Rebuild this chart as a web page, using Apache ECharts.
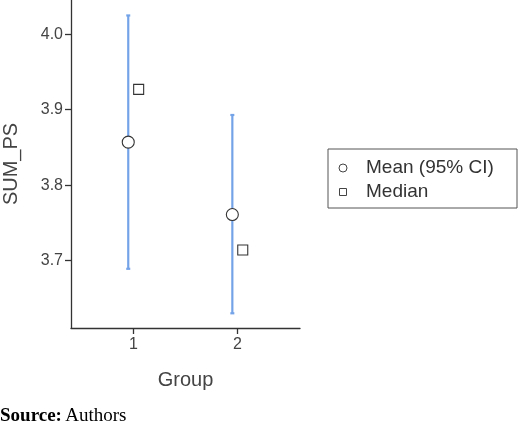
<!DOCTYPE html>
<html><head><meta charset="utf-8">
<script src="https://cdn.jsdelivr.net/npm/echarts@6/dist/echarts.min.js"></script>
<style>html,body{margin:0;padding:0;background:#fff}#c{width:520px;height:428px}</style>
</head><body><div id="c"></div>
<script>
const groups = [1, 2];
const means = [3.857, 3.761];
const ciLow = [3.689, 3.630];
const ciHigh = [4.025, 3.893];
const medians = [3.927, 3.714];
const yTicks = [3.7, 3.8, 3.9, 4.0];
const legendNames = ['Mean (95% CI)', 'Median'];

const chart = echarts.init(document.getElementById('c'));
const axisStyle = {color:'#333', width:1.3};
const F = 'Liberation Sans';
chart.setOption({
  animation:false,
  grid:{left:68, top:0, right:220, bottom:100},
  xAxis:{type:'value', min:0.4, max:2.6, name:'Group', nameLocation:'middle', nameGap:42,
    nameTextStyle:{fontSize:20, color:'#444', fontFamily:F},
    axisLine:{lineStyle:axisStyle}, splitLine:{show:false},
    axisTick:{customValues:groups, length:6, lineStyle:axisStyle},
    axisLabel:{customValues:groups, fontSize:16, color:'#444', fontFamily:F, margin:9}},
  yAxis:{type:'value', min:3.6105, max:4.0455, name:'SUM_PS', nameLocation:'middle', nameGap:50,
    nameTextStyle:{fontSize:20, color:'#444', fontFamily:F},
    axisLine:{show:true, lineStyle:axisStyle}, splitLine:{show:false},
    axisTick:{show:true, customValues:yTicks, length:6, lineStyle:axisStyle},
    axisLabel:{customValues:yTicks, fontSize:16, color:'#444', fontFamily:F, margin:8,
      formatter:v=>v.toFixed(1)}},
  series:[
    {type:'custom', name:'ci', silent:true,
     data:groups.map((g,i)=>[g-0.05, ciLow[i], ciHigh[i]]),
     renderItem:(p,api)=>{
       const lo=api.coord([api.value(0),api.value(1)]), hi=api.coord([api.value(0),api.value(2)]);
       const st={stroke:'#74a3e8', lineWidth:2.2};
       return {type:'group', children:[
         {type:'line', shape:{x1:lo[0],y1:lo[1],x2:hi[0],y2:hi[1]}, style:st},
         {type:'line', shape:{x1:lo[0]-2,y1:lo[1],x2:lo[0]+2,y2:lo[1]}, style:st},
         {type:'line', shape:{x1:hi[0]-2,y1:hi[1],x2:hi[0]+2,y2:hi[1]}, style:st}]};
     }, z:1},
    {type:'scatter', name:legendNames[0], symbol:'circle', symbolSize:12,
     data:groups.map((g,i)=>[g-0.05, means[i]]),
     itemStyle:{color:'#fff', borderColor:'#333', borderWidth:1.1, opacity:1}, z:3},
    {type:'scatter', name:legendNames[1], symbol:'rect', symbolSize:10,
     data:groups.map((g,i)=>[g+0.05, medians[i]]),
     itemStyle:{color:'#fff', borderColor:'#333', borderWidth:1.1, opacity:1}, z:3}
  ],
  graphic:[
    {type:'rect', shape:{x:328, y:149, width:189, height:59}, style:{fill:'#fff', stroke:'#555', lineWidth:1}},
    {type:'circle', shape:{cx:343, cy:168, r:4}, style:{fill:'#fff', stroke:'#444', lineWidth:1}},
    {type:'rect', shape:{x:339.5, y:188.5, width:7, height:7}, style:{fill:'#fff', stroke:'#444', lineWidth:1}},
    {type:'text', x:366, y:168, style:{text:legendNames[0], fontSize:19, fontFamily:F, fill:'#333', verticalAlign:'middle'}},
    {type:'text', x:366, y:192, style:{text:legendNames[1], fontSize:19, fontFamily:F, fill:'#333', verticalAlign:'middle'}},
    {type:'text', left:0, top:407, style:{rich:{b:{fontWeight:'bold', fontSize:19, fontFamily:'Liberation Serif', fill:'#000'}, n:{fontSize:19, fontFamily:'Liberation Serif', fill:'#000'}}, text:'{b|Source:} {n|Authors}'}}
  ]
});
</script></body></html>
